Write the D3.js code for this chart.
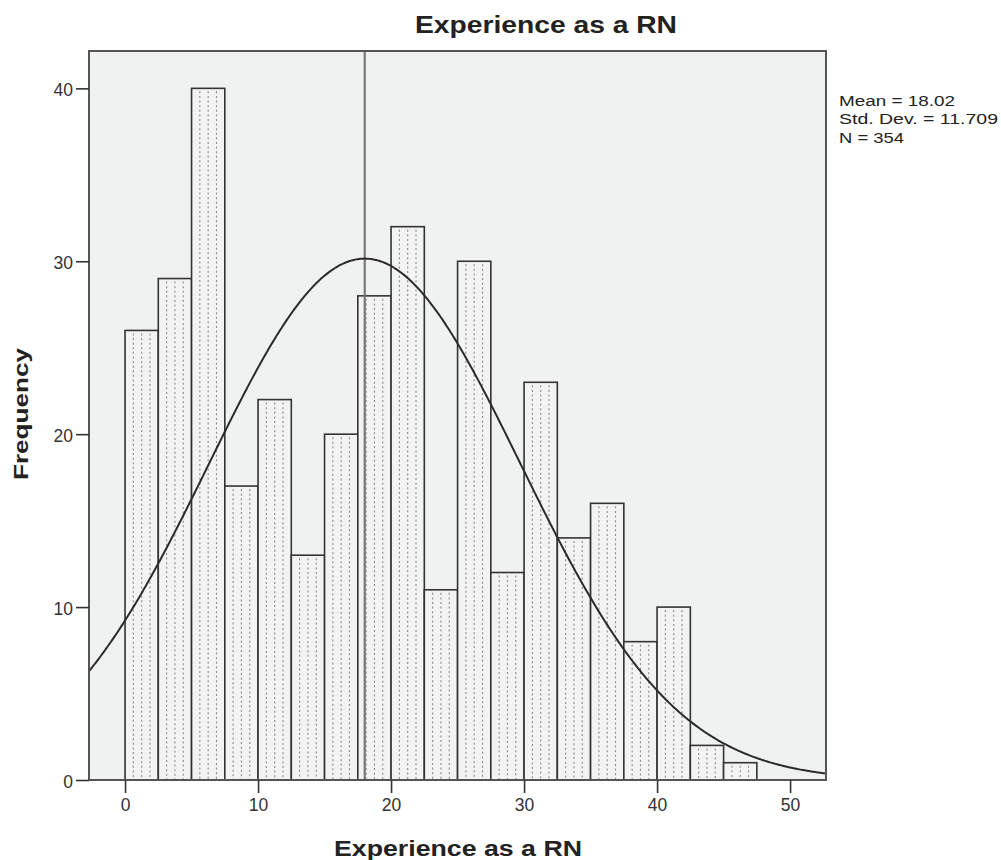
<!DOCTYPE html>
<html>
<head>
<meta charset="utf-8">
<script src="https://cdn.jsdelivr.net/npm/d3@7"></script>
<style>
  html, body { margin: 0; padding: 0; background: #ffffff; }
  svg { display: block; font-family: "Liberation Sans", Arial, sans-serif; }
</style>
</head>
<body>
<svg id="chart" width="1001" height="860"></svg>
<script>
// ---- Data ----
const binStarts = [0, 2.5, 5, 7.5, 10, 12.5, 15, 17.5, 20, 22.5, 25, 27.5, 30, 32.5, 35, 37.5, 40, 42.5, 45];
const binWidth = 2.5;
const frequencies = [26, 29, 40, 17, 22, 13, 20, 28, 32, 11, 30, 12, 23, 14, 16, 8, 10, 2, 1];
const xTicks = [0, 10, 20, 30, 40, 50];
const yTicks = [0, 10, 20, 30, 40];
const statMean = 18.02;
const statSD = 11.709;
const statN = 354;
const legendLines = ["Mean = 18.02", "Std. Dev. = 11.709", "N = 354"];
const legendWidths = [116, 159, 65];
const titleText = "Experience as a RN";
const xLabelText = "Experience as a RN";
const yLabelText = "Frequency";

// ---- Layout ----
const plot = { left: 89, right: 826, top: 51, bottom: 780 };
const svg = d3.select("#chart");

const x = d3.scaleLinear().domain([-2.71, 52.7]).range([plot.left, plot.right]);
const y = d3.scaleLinear().domain([0, 42.16]).range([plot.bottom, plot.top]);

// background
svg.append("rect")
  .attr("x", plot.left).attr("y", plot.top)
  .attr("width", plot.right - plot.left).attr("height", plot.bottom - plot.top)
  .attr("fill", "#f0f1f1");

svg.append("defs").append("clipPath").attr("id", "clip")
  .append("rect")
  .attr("x", plot.left).attr("y", plot.top)
  .attr("width", plot.right - plot.left).attr("height", plot.bottom - plot.top);

const bins = binStarts.map((s, i) => ({ x0: s, x1: s + binWidth, v: frequencies[i] }));

// bars
const barG = svg.append("g");
const bar = barG.selectAll("g.bar").data(bins).enter().append("g").attr("class", "bar");
bar.append("rect")
  .attr("x", d => x(d.x0)).attr("y", d => y(d.v))
  .attr("width", d => x(d.x1) - x(d.x0)).attr("height", d => y(0) - y(d.v))
  .attr("fill", "#f3f3f3");
[0.25, 0.5, 0.75].forEach(f => {
  bar.append("line")
    .attr("x1", d => x(d.x0) + (x(d.x1) - x(d.x0)) * f)
    .attr("x2", d => x(d.x0) + (x(d.x1) - x(d.x0)) * f)
    .attr("y1", d => y(d.v) + 3).attr("y2", d => y(0))
    .attr("stroke", "#8a8a8a").attr("stroke-width", 1.1)
    .attr("stroke-dasharray", "2,2.6");
});
bar.append("rect")
  .attr("x", d => x(d.x0)).attr("y", d => y(d.v))
  .attr("width", d => x(d.x1) - x(d.x0)).attr("height", d => y(0) - y(d.v))
  .attr("fill", "none").attr("stroke", "#333").attr("stroke-width", 1.6);

// mean line
svg.append("line")
  .attr("x1", x(statMean)).attr("x2", x(statMean))
  .attr("y1", plot.top).attr("y2", plot.bottom)
  .attr("stroke", "#777").attr("stroke-width", 2.2);

// normal curve
const scaleFactor = statN * binWidth;
const curvePts = d3.range(x.domain()[0], x.domain()[1] + 0.01, 0.1).map(v => {
  const z = (v - statMean) / statSD;
  return [v, scaleFactor * Math.exp(-0.5 * z * z) / (statSD * Math.sqrt(2 * Math.PI))];
});
svg.append("path")
  .datum(curvePts)
  .attr("clip-path", "url(#clip)")
  .attr("d", d3.line().x(d => x(d[0])).y(d => y(d[1])).curve(d3.curveBasis))
  .attr("fill", "none").attr("stroke", "#2b2b2b").attr("stroke-width", 2);

// frame
svg.append("rect")
  .attr("x", plot.left).attr("y", plot.top)
  .attr("width", plot.right - plot.left).attr("height", plot.bottom - plot.top)
  .attr("fill", "none").attr("stroke", "#555").attr("stroke-width", 2);

// axes
const xAxis = svg.append("g").attr("transform", `translate(0,${plot.bottom})`)
  .call(d3.axisBottom(x).tickValues(xTicks).tickSize(13).tickPadding(6).tickFormat(d3.format("d")));
const yAxis = svg.append("g").attr("transform", `translate(${plot.left},0)`)
  .call(d3.axisLeft(y).tickValues(yTicks).tickSize(13).tickPadding(3).tickFormat(d3.format("d")));
[xAxis, yAxis].forEach(a => {
  a.select(".domain").remove();
  a.selectAll(".tick line").attr("stroke", "#333").attr("stroke-width", 1.6);
  a.selectAll(".tick text").attr("fill", "#333").attr("font-size", "17.5px")
    .attr("font-family", "'Liberation Sans', Arial, sans-serif");
});
yAxis.selectAll(".tick text").attr("dy", "0.4em");

// title
svg.append("text")
  .attr("x", 546).attr("y", 33)
  .attr("text-anchor", "middle")
  .attr("font-size", "23px").attr("font-weight", "bold").attr("fill", "#222")
  .attr("textLength", 262).attr("lengthAdjust", "spacingAndGlyphs")
  .text(titleText);

// x label
svg.append("text")
  .attr("x", 458).attr("y", 856)
  .attr("text-anchor", "middle")
  .attr("font-size", "22px").attr("font-weight", "bold").attr("fill", "#222")
  .attr("textLength", 248).attr("lengthAdjust", "spacingAndGlyphs")
  .text(xLabelText);

// y label
svg.append("text")
  .attr("transform", "translate(28,414) rotate(-90)")
  .attr("text-anchor", "middle")
  .attr("font-size", "20px").attr("font-weight", "bold").attr("fill", "#222")
  .attr("textLength", 132).attr("lengthAdjust", "spacingAndGlyphs")
  .text(yLabelText);

// stats legend
const leg = svg.append("g");
legendLines.forEach((t, i) => {
  leg.append("text")
    .attr("x", 839).attr("y", 106 + i * 18.3)
    .attr("font-size", "15.5px").attr("fill", "#222")
    .attr("textLength", legendWidths[i]).attr("lengthAdjust", "spacingAndGlyphs")
    .text(t);
});
</script>
</body>
</html>
